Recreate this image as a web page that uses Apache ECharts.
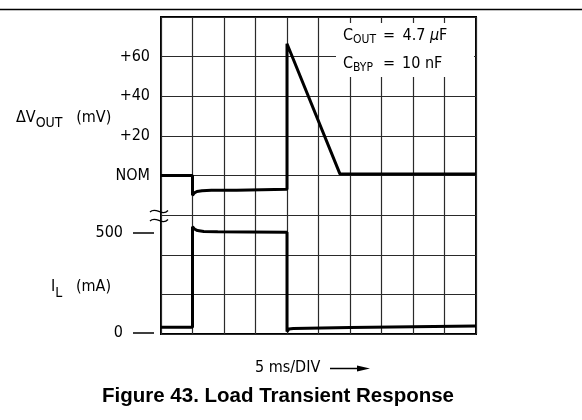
<!DOCTYPE html>
<html>
<head>
<meta charset="utf-8">
<script src="https://cdn.jsdelivr.net/npm/echarts@6/dist/echarts.min.js"></script>
<style>
html,body{margin:0;padding:0;background:#fff;}
#chart{width:582px;height:420px;}
</style>
</head>
<body>
<div id="chart"></div>
<script>
// ---- data ----
const timeV = [0, 5, 5, 5.3, 5.7, 6.5, 8, 12, 20, 20, 28.4, 50];          // ms
const voltV = [0, 0, -10, -8.8, -8.1, -7.7, -7.5, -7.4, -7.0, 66.5, 0.8, 0.8]; // mV vs NOM
const timeI = [0, 5, 5, 5.3, 5.8, 6.8, 9, 14, 20, 20, 20.3, 21, 30, 40, 50]; // ms
const currI = [29, 29, 531, 520, 512, 508, 506, 505, 504, 7, 20, 23, 27, 31, 35]; // mA
const voltTicks = [0, 20, 40, 60];
const currTicks = [0, 500];

const FONT = "'DejaVu Sans Condensed', 'Liberation Sans Narrow', 'DejaVu Sans', sans-serif";
const FS = 16;

const chart = echarts.init(document.getElementById('chart'), null, {renderer: 'canvas'});

const sub = (fs, pad) => ({fontFamily: FONT, fontSize: fs, color: '#000', padding: [pad, 0, 0, 0]});
const main = (fs) => ({fontFamily: FONT, fontSize: fs, color: '#000'});

const option = {
  animation: false,
  backgroundColor: '#fff',
  grid: {left: 161, top: 17, width: 315, height: 317, show: true, borderColor: '#000', borderWidth: 2, backgroundColor: 'transparent'},
  xAxis: {
    type: 'value', min: 0, max: 50, interval: 5,
    axisLine: {show: false}, axisTick: {show: false}, axisLabel: {show: false},
    splitLine: {show: true, lineStyle: {color: '#2a2a2a', width: 1.2}}
  },
  yAxis: [
    {
      type: 'value', min: -80, max: 80, interval: 20, position: 'left',
      axisLine: {show: false}, axisTick: {show: false},
      axisLabel: {
        margin: 11, fontFamily: FONT, fontSize: FS, color: '#000',
        formatter: v => voltTicks.indexOf(v) < 0 ? '' : (v === 0 ? 'NOM' : '+' + v)
      },
      splitLine: {show: true, lineStyle: {color: '#2a2a2a', width: 1.2}}
    },
    {
      type: 'value', min: -5, max: 1580, position: 'left', offset: 7,
      axisLine: {show: false},
      axisTick: {show: true, customValues: currTicks, length: 21, lineStyle: {color: '#000', width: 1.5}},
      axisLabel: {customValues: currTicks, margin: 31, fontFamily: FONT, fontSize: FS, color: '#000'},
      splitLine: {show: false}
    }
  ],
  series: [
    {
      type: 'line', yAxisIndex: 0, symbol: 'none', silent: true,
      lineStyle: {color: '#000', width: 3}, clip: false,
      data: timeV.map((t, i) => [t, voltV[i]])
    },
    {
      type: 'line', yAxisIndex: 1, symbol: 'none', silent: true,
      lineStyle: {color: '#000', width: 3}, clip: false,
      data: timeI.map((t, i) => [t, currI[i]])
    }
  ],
  graphic: [
    {type: 'line', shape: {x1: 0, y1: 9.5, x2: 582, y2: 9.5}, style: {stroke: '#000', lineWidth: 1.5}},
    {type: 'rect', z: 10, shape: {x: 336, y: 23, width: 138, height: 54}, style: {fill: '#fff'}},
    {type: 'text', z: 11, x: 343, y: 36, style: {
      text: '{m|C}{s|OUT}', textVerticalAlign: 'middle',
      rich: {m: main(FS), s: sub(12, 8)}}},
    {type: 'text', z: 11, x: 389, y: 36, style: {text: '=', textAlign: 'center', textVerticalAlign: 'middle', font: FS + 'px ' + FONT, fill: '#000'}},
    {type: 'text', z: 11, x: 402.5, y: 36, style: {
      text: '{m|4.7 }{g|\u03bc}{m|F}', textVerticalAlign: 'middle',
      rich: {m: main(FS), g: {fontFamily: FONT, fontSize: FS, fontStyle: 'italic', color: '#000'}}}},
    {type: 'text', z: 11, x: 343, y: 64, style: {
      text: '{m|C}{s|BYP}', textVerticalAlign: 'middle',
      rich: {m: main(FS), s: sub(12, 8)}}},
    {type: 'text', z: 11, x: 389, y: 64, style: {text: '=', textAlign: 'center', textVerticalAlign: 'middle', font: FS + 'px ' + FONT, fill: '#000'}},
    {type: 'text', z: 11, x: 402, y: 64, style: {text: '10 nF', textVerticalAlign: 'middle', font: FS + 'px ' + FONT, fill: '#000'}},
    {type: 'text', x: 16, y: 117.5, style: {
      text: '{m|\u0394V}{s|OUT}{m|   (mV)}', textVerticalAlign: 'middle',
      rich: {m: main(FS), s: sub(14, 12)}}},
    {type: 'text', x: 51, y: 286.5, style: {
      text: '{m|I}{s|L}{m|   (mA)}', textVerticalAlign: 'middle',
      rich: {m: main(FS), s: sub(14, 14)}}},
    {type: 'bezierCurve', z: 12, shape: {x1: 150, y1: 212, cpx1: 156, cpy1: 206, cpx2: 162, cpy2: 217, x2: 168, y2: 210.5}, style: {stroke: '#000', lineWidth: 1.3, fill: null}},
    {type: 'bezierCurve', z: 12, shape: {x1: 150, y1: 221, cpx1: 156, cpy1: 215, cpx2: 162, cpy2: 226, x2: 168, y2: 219.5}, style: {stroke: '#000', lineWidth: 1.3, fill: null}},
    {type: 'text', x: 255, y: 368, style: {text: '5 ms/DIV', textVerticalAlign: 'middle', font: FS + 'px ' + FONT, fill: '#000'}},
    {type: 'line', shape: {x1: 330, y1: 368.5, x2: 360, y2: 368.5}, style: {stroke: '#000', lineWidth: 1.5}},
    {type: 'polygon', shape: {points: [[357, 365.5], [370, 368.5], [357, 371.5]]}, style: {fill: '#000'}},
    {type: 'text', x: 278, y: 396, style: {text: 'Figure 43. Load Transient Response', textAlign: 'center', textVerticalAlign: 'middle', font: 'bold 20.5px "Liberation Sans", Arial, sans-serif', fill: '#000'}}
  ]
};
chart.setOption(option);
</script>
</body>
</html>
